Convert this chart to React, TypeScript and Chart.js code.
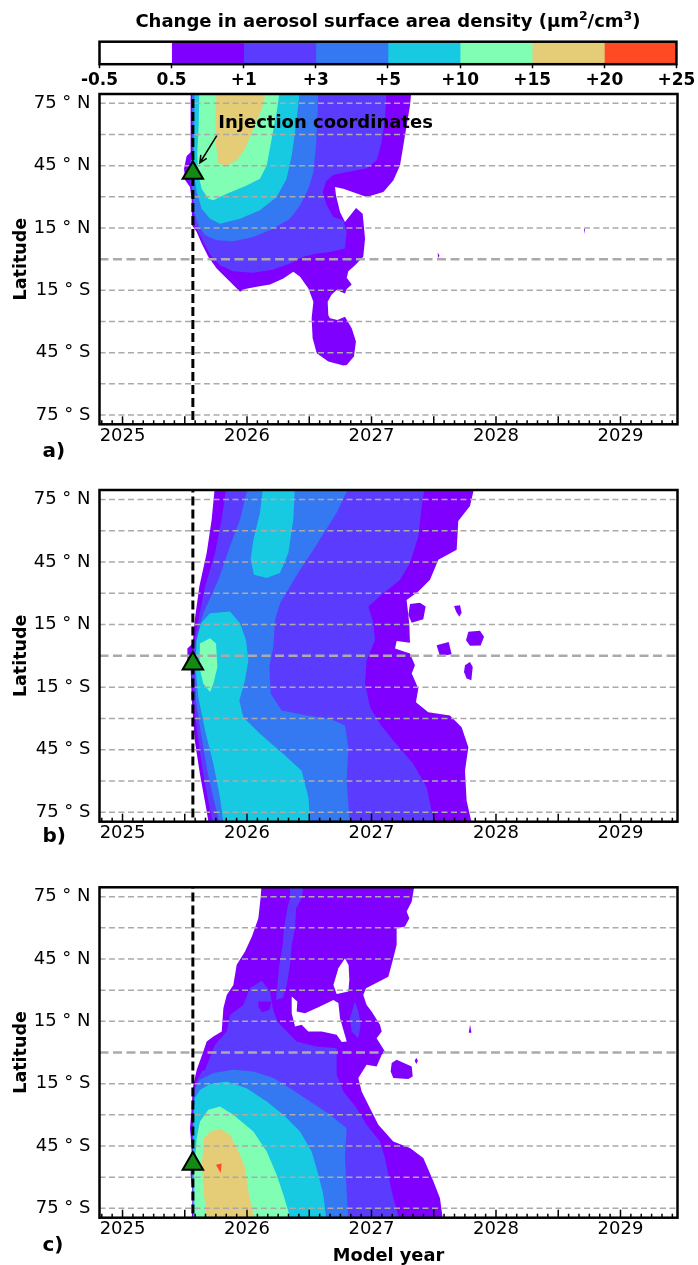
import React, { useEffect, useRef } from 'react';
import { Chart, registerables } from 'chart.js';

Chart.register(...registerables);
Chart.defaults.font.family = "'DejaVu Sans', sans-serif";

type Pt = [number, number];

// ---------- axes ----------
const X_MIN = 2024.815;
const X_MAX = 2029.458;
const Y_MIN = -79.5;
const Y_MAX = 79.5;
const YEAR_TICKS = [2025, 2026, 2027, 2028, 2029];
const LAT_GRID = [75, 60, 45, 30, 15, 0, -15, -30, -45, -60, -75];
const LAT_LABELS: Record<string, string> = {
  '75': '75 ° N', '45': '45 ° N', '15': '15 ° N',
  '-15': '15 ° S', '-45': '45 ° S', '-75': '75 ° S',
};

// ---------- colour levels ----------
const CB_LABELS = ['-0.5', '0.5', '+1', '+3', '+5', '+10', '+15', '+20', '+25'];
const CB_COLORS = ['#ffffff', '#8000ff', '#5b3cff', '#3478f2', '#18c9e2', '#80ffb4', '#e4cd76', '#ff4a24'];
const CB_TITLE = ['Change in aerosol surface area density (μm', '2', '/cm', '3', ')'];

// ---------- injection ----------
const INJ_YEAR = 2025.565;
const INJ_LATS = [41.5, -3.7, -53.6];
const ANNOT_TEXT = 'Injection coordinates';
const ANNOT_POS: Pt = [2025.769, 63.0];
const ARROW_FROM: Pt = [2025.757, 59.5];
const ARROW_TO: Pt = [2025.622, 46.4];

// ---------- panel a contours (year, latitude) ----------
const A_VIOLET: Pt[] = [
  [2025.547, 82], [2025.547, 51.5], [2025.515, 49.6], [2025.494, 43.5], [2025.505, 37.9], [2025.542, 34.7],
  [2025.555, 29.1], [2025.558, 16.3], [2025.596, 13.1], [2025.636, 7.5], [2025.689, 1.1], [2025.756, -4.5],
  [2025.823, -8.5], [2025.890, -12.5], [2025.944, -15.7], [2025.984, -14.4], [2026.078, -13.3], [2026.185, -12.2],
  [2026.292, -9.3], [2026.372, -6.1], [2026.426, -8.5], [2026.493, -14.1], [2026.533, -20.5], [2026.519, -28.5],
  [2026.527, -38.1], [2026.560, -45.3], [2026.653, -49.3], [2026.774, -51.2], [2026.801, -50.9], [2026.859, -46.9],
  [2026.875, -39.7], [2026.841, -33.3], [2026.787, -27.7], [2026.726, -29.3], [2026.667, -28.5], [2026.653, -27.0],
  [2026.648, -20.5], [2026.680, -17.0], [2026.720, -14.9], [2026.787, -16.5], [2026.801, -14.4], [2026.841, -12.2],
  [2026.801, -9.0], [2026.814, -5.8], [2026.868, -2.9], [2026.934, 1.1], [2026.948, 9.9], [2026.929, 21.9],
  [2026.876, 24.6], [2026.787, 17.9], [2026.747, 22.7], [2026.715, 30.7], [2026.707, 34.7], [2026.774, 33.9],
  [2026.961, 29.9], [2027.095, 32.3], [2027.175, 37.9], [2027.229, 45.1], [2027.269, 59.5], [2027.309, 73.9],
  [2027.322, 82],
];
const A_SPECK_1: Pt[] = [[2027.532, 3.2], [2027.546, 1.6], [2027.534, 0.6]];
const A_SPECK_2: Pt[] = [[2028.707, 14.6], [2028.715, 14.6], [2028.712, 12.0]];
const A_INDIGO: Pt[] = [
  [2025.561, 82], [2025.561, 51.5], [2025.542, 46.7], [2025.537, 38.7], [2025.555, 33.9], [2025.569, 27.5],
  [2025.580, 16.3], [2025.622, 11.5], [2025.663, 6.7], [2025.708, 1.9], [2025.783, -2.9], [2025.890, -5.8],
  [2026.051, -6.6], [2026.211, -5.0], [2026.345, -2.1], [2026.452, 1.1], [2026.560, 2.7], [2026.666, 3.5],
  [2026.787, 5.1], [2026.800, 13.1], [2026.773, 18.7], [2026.693, 20.3], [2026.640, 25.9], [2026.608, 32.3],
  [2026.634, 37.4], [2026.693, 40.6], [2026.827, 42.2], [2026.961, 43.8], [2027.041, 47.5], [2027.081, 56.3],
  [2027.108, 67.5], [2027.121, 82],
];
const A_BLUE: Pt[] = [
  [2025.558, 82], [2025.564, 51.5], [2025.547, 43.5], [2025.564, 32.3], [2025.575, 22.7], [2025.609, 16.3],
  [2025.663, 11.5], [2025.756, 9.1], [2025.890, 8.6], [2026.051, 10.7], [2026.211, 14.7], [2026.345, 19.5],
  [2026.426, 25.9], [2026.493, 33.9], [2026.533, 41.9], [2026.554, 54.7], [2026.565, 67.5], [2026.573, 82],
];
const A_CYAN: Pt[] = [
  [2025.580, 82], [2025.575, 59.5], [2025.569, 43.5], [2025.596, 32.3], [2025.636, 24.3], [2025.703, 19.5],
  [2025.783, 17.1], [2025.944, 19.5], [2026.104, 23.5], [2026.238, 29.9], [2026.318, 38.7], [2026.359, 49.9],
  [2026.393, 64.3], [2026.426, 82],
];
const A_MINT: Pt[] = [
  [2025.617, 82], [2025.612, 64.3], [2025.601, 51.5], [2025.604, 41.9], [2025.636, 33.9], [2025.689, 29.1],
  [2025.730, 28.3], [2025.837, 31.5], [2025.997, 35.5], [2026.104, 38.7], [2026.158, 45.1], [2026.198, 57.9],
  [2026.238, 70.7], [2026.265, 82],
];
const A_TAN: Pt[] = [
  [2025.756, 82], [2025.743, 67.5], [2025.751, 54.7], [2025.770, 45.9], [2025.837, 45.1], [2025.917, 47.5],
  [2025.984, 53.1], [2026.051, 62.7], [2026.118, 72.3], [2026.158, 82],
];

// ---------- panel b contours ----------
const B_VIOLET: Pt[] = [
  [2025.743, 82], [2025.716, 65.4], [2025.676, 49.3], [2025.617, 33.2], [2025.580, 17.2], [2025.564, 5.9],
  [2025.521, 3.5], [2025.521, -2.9], [2025.547, -5.3], [2025.555, -19.8], [2025.580, -40.6], [2025.622, -56.7],
  [2025.671, -72.8], [2025.697, -82],
  [2027.812, -82], [2027.764, -69.5], [2027.751, -55.1], [2027.778, -43.8], [2027.724, -34.2], [2027.630, -28.6],
  [2027.456, -27.0], [2027.357, -22.2], [2027.376, -15.7], [2027.323, -8.5], [2027.349, -4.5], [2027.309, 1.1],
  [2027.189, 3.5], [2027.202, 7.1], [2027.309, 6.3], [2027.304, 14.8], [2027.296, 19.6], [2027.282, 26.8],
  [2027.376, 30.8], [2027.470, 36.5], [2027.537, 46.1], [2027.684, 50.9], [2027.697, 64.6], [2027.791, 71.8],
  [2027.831, 82],
];
const B_ISLE_1: Pt[] = [[2027.309, 24.9], [2027.389, 25.5], [2027.435, 23.6], [2027.416, 17.5], [2027.323, 15.9], [2027.296, 19.6]];
const B_ISLE_2: Pt[] = [[2027.663, 23.9], [2027.711, 24.3], [2027.724, 20.7], [2027.705, 18.8], [2027.679, 21.2]];
const B_ISLE_3: Pt[] = [[2027.778, 11.6], [2027.871, 12.0], [2027.904, 9.2], [2027.877, 5.0], [2027.791, 4.8], [2027.759, 7.5]];
const B_ISLE_4: Pt[] = [[2027.523, 5.1], [2027.620, 6.6], [2027.644, 0.8], [2027.550, -0.2]];
const B_ISLE_5: Pt[] = [[2027.751, -4.5], [2027.791, -2.9], [2027.813, -5.3], [2027.802, -11.7], [2027.764, -10.9], [2027.743, -7.7]];
const B_INDIGO: Pt[] = [
  [2025.837, 82], [2025.796, 65.4], [2025.743, 49.3], [2025.663, 33.2], [2025.609, 17.2], [2025.574, 5.9],
  [2025.555, -5.3], [2025.569, -19.8], [2025.601, -37.4], [2025.644, -55.1], [2025.689, -69.5], [2025.730, -82],
  [2027.510, -82], [2027.443, -63.1], [2027.336, -51.9], [2027.175, -40.6], [2027.068, -32.6], [2026.988, -24.6],
  [2026.948, -13.3], [2026.961, -2.1], [2027.028, 7.5], [2027.015, 15.6], [2026.975, 23.6], [2027.095, 30.0],
  [2027.229, 36.5], [2027.309, 44.5], [2027.376, 57.3], [2027.403, 71.8], [2027.430, 82],
];
const B_BLUE: Pt[] = [
  [2026.011, 82], [2025.944, 65.4], [2025.863, 52.5], [2025.770, 36.5], [2025.649, 20.4], [2025.590, 7.5],
  [2025.580, -5.3], [2025.590, -21.4], [2025.630, -37.4], [2025.681, -55.1], [2025.735, -69.5], [2025.788, -82],
  [2026.827, -82], [2026.800, -59.9], [2026.814, -43.8], [2026.787, -33.4], [2026.666, -30.2], [2026.479, -28.6],
  [2026.278, -26.2], [2026.190, -18.1], [2026.179, -5.3], [2026.211, 4.3], [2026.225, 17.2], [2026.265, 25.2],
  [2026.345, 33.2], [2026.426, 41.3], [2026.533, 50.9], [2026.653, 62.2], [2026.720, 68.6], [2026.827, 82],
];
const B_CYAN: Pt[] = [
  [2025.630, 15.6], [2025.703, 20.4], [2025.863, 21.2], [2025.944, 15.6], [2025.992, 7.5], [2026.011, -2.1],
  [2025.984, -11.7], [2025.938, -21.4], [2025.970, -29.4], [2026.104, -37.4], [2026.292, -47.1], [2026.439, -55.1],
  [2026.493, -67.9], [2026.511, -82], [2025.815, -82], [2025.783, -67.9], [2025.730, -51.9], [2025.663, -35.8],
  [2025.609, -19.8], [2025.586, -5.3], [2025.596, 7.5],
];
const B_CYAN_NORTH: Pt[] = [
  [2026.131, 82], [2026.385, 82], [2026.372, 65.4], [2026.332, 49.3], [2026.265, 39.7], [2026.158, 37.3],
  [2026.056, 38.9], [2026.029, 46.1], [2026.051, 55.7], [2026.104, 68.6],
];
const B_MINT: Pt[] = [
  [2025.622, 5.9], [2025.703, 8.4], [2025.751, 5.9], [2025.762, -5.3], [2025.730, -13.3], [2025.703, -17.3],
  [2025.649, -13.3], [2025.617, -5.3],
];

// ---------- panel c contours ----------
const C_VIOLET: Pt[] = [
  [2026.118, 82], [2026.110, 75], [2026.091, 64.6], [2026.040, 56], [2025.984, 48.6], [2025.917, 42.2],
  [2025.890, 32.5], [2025.837, 27.7], [2025.810, 21.3], [2025.797, 10.1], [2025.730, 7.7], [2025.676, 5.3],
  [2025.649, 0.5], [2025.596, -8.3], [2025.575, -14], [2025.564, -17.2], [2025.555, -26.8], [2025.542, -36.4],
  [2025.555, -46.0], [2025.547, -58.8], [2025.564, -68.4], [2025.555, -82],
  [2027.577, -82], [2027.550, -70.1], [2027.497, -62.0], [2027.416, -50.8], [2027.309, -46.0], [2027.175, -42.8],
  [2027.055, -34.8], [2026.988, -26.8], [2026.921, -18.8], [2026.894, -12.3], [2026.961, -5.9], [2027.041, -6.7],
  [2027.082, -1.1], [2027.108, 0.5], [2027.041, 6.9], [2027.082, 10.1], [2027.068, 13.3], [2027.001, 19.7],
  [2026.961, 22.9], [2026.934, 27.7], [2026.956, 30.9], [2027.135, 36.5], [2027.175, 45.4], [2027.202, 51.8],
  [2027.202, 59.8], [2027.269, 60.6], [2027.304, 64.6], [2027.282, 67.8], [2027.323, 72.6], [2027.341, 79.0],
  [2027.341, 82],
];
const C_ISLE_1: Pt[] = [[2027.162, -5.1], [2027.202, -3.5], [2027.323, -6.7], [2027.331, -11.5], [2027.296, -12.7], [2027.175, -12.3], [2027.154, -9.1]];
const C_ISLE_2: Pt[] = [[2027.360, -2.5], [2027.373, -4.0], [2027.360, -5.5], [2027.347, -4.0]];
const C_ISLE_3: Pt[] = [[2027.792, 13.3], [2027.803, 9.5], [2027.781, 9.5]];
const C_INDIGO_BAND: Pt[] = [
  [2026.345, 82], [2026.458, 82], [2026.439, 74.2], [2026.394, 69.4], [2026.386, 59.8], [2026.359, 51.8],
  [2026.345, 42.2], [2026.319, 32.5], [2026.287, 26.2], [2026.233, 25.3], [2026.244, 32.5], [2026.260, 42.2],
  [2026.287, 51.8], [2026.297, 59.8], [2026.324, 69.4], [2026.345, 74.2],
];
const C_INDIGO: Pt[] = [
  [2025.663, -8.3], [2025.743, 3.7], [2025.837, 10.1], [2025.863, 18.1], [2025.970, 22.9], [2026.024, 31.0],
  [2026.118, 34.5], [2026.185, 29.3], [2026.206, 21.3], [2026.244, 14.9], [2026.319, 10.1], [2026.399, 5.3],
  [2026.560, 2.9], [2026.720, 2.1], [2026.720, -10.7], [2026.774, -18.8], [2026.881, -26.8], [2026.961, -34.8],
  [2027.068, -42.8], [2027.108, -50.8], [2027.162, -66.8], [2027.229, -82], [2025.569, -82], [2025.555, -58.8],
  [2025.561, -36.4], [2025.574, -20.4], [2025.596, -13.9], [2025.636, -9.1],
];
const C_INDIGO_SLIVER: Pt[] = [[2026.867, 24.5], [2026.894, 19.7], [2026.913, 13.3], [2026.894, 6.9], [2026.841, 10.1], [2026.827, 16.5]];
const C_VIOLET_POCKET: Pt[] = [[2026.091, 24.5], [2026.198, 24.5], [2026.179, 20.5], [2026.118, 19.4], [2026.091, 22.1]];
const C_BLUE: Pt[] = [
  [2025.580, -17.2], [2025.622, -13.1], [2025.730, -9.9], [2025.890, -8.3], [2026.051, -9.1], [2026.211, -12.3],
  [2026.345, -17.2], [2026.506, -23.6], [2026.666, -30.0], [2026.800, -36.4], [2026.787, -50.8], [2026.800, -66.8],
  [2026.814, -82], [2025.569, -82], [2025.561, -58.8], [2025.569, -36.4], [2025.574, -23.6],
];
const C_CYAN: Pt[] = [
  [2025.580, -22.0], [2025.622, -18.0], [2025.703, -15.2], [2025.837, -13.9], [2025.997, -17.2], [2026.158, -23.6],
  [2026.292, -30.0], [2026.426, -38.0], [2026.519, -47.6], [2026.573, -58.8], [2026.613, -68.4], [2026.640, -82],
  [2025.569, -82], [2025.564, -58.8], [2025.569, -36.4], [2025.574, -26.8],
];
const C_MINT: Pt[] = [
  [2025.622, -33.2], [2025.689, -27.6], [2025.783, -26.0], [2025.890, -30.0], [2026.051, -38.0], [2026.158, -47.6],
  [2026.238, -58.8], [2026.292, -68.4], [2026.359, -82], [2025.580, -82], [2025.575, -58.8], [2025.596, -41.2],
];
const C_TAN: Pt[] = [
  [2025.655, -41.2], [2025.703, -38.0], [2025.783, -36.7], [2025.863, -39.6], [2025.944, -49.2], [2025.984, -55.6],
  [2026.011, -66.8], [2026.064, -82], [2025.680, -82], [2025.655, -68.4], [2025.636, -54.0],
];
const C_RED: Pt[] = [[2025.751, -54.0], [2025.796, -53.4], [2025.788, -58.0]];
const C_HOLE_1: Pt[] = [[2026.787, 45.4], [2026.816, 42.0], [2026.822, 35.0], [2026.814, 29.3], [2026.720, 28.1], [2026.694, 32.5], [2026.734, 40.6]];
const C_HOLE_2: Pt[] = [
  [2026.359, 26.9], [2026.404, 24.5], [2026.399, 19.7], [2026.466, 18.9], [2026.586, 22.1], [2026.694, 25.3],
  [2026.734, 23.8], [2026.747, 16.5], [2026.801, 5.3], [2026.761, 5.0], [2026.720, 8.5], [2026.600, 10.1],
  [2026.492, 10.1], [2026.439, 13.3], [2026.386, 12.5], [2026.359, 18.9],
];

// layers in paint order: [colour index, polygon]
const LAYERS_A: [number, Pt[]][] = [
  [1, A_VIOLET], [1, A_SPECK_1], [1, A_SPECK_2], [2, A_INDIGO], [3, A_BLUE], [4, A_CYAN], [5, A_MINT], [6, A_TAN],
];
const LAYERS_B: [number, Pt[]][] = [
  [1, B_VIOLET], [1, B_ISLE_1], [1, B_ISLE_2], [1, B_ISLE_3], [1, B_ISLE_4], [1, B_ISLE_5],
  [2, B_INDIGO], [3, B_BLUE], [4, B_CYAN], [4, B_CYAN_NORTH], [5, B_MINT],
];
const LAYERS_C: [number, Pt[]][] = [
  [1, C_VIOLET], [1, C_ISLE_1], [1, C_ISLE_2], [1, C_ISLE_3], [2, C_INDIGO_BAND], [2, C_INDIGO],
  [2, C_INDIGO_SLIVER], [1, C_VIOLET_POCKET], [3, C_BLUE], [4, C_CYAN], [5, C_MINT], [6, C_TAN], [7, C_RED],
  [0, C_HOLE_1], [0, C_HOLE_2],
];

const PANELS = [
  { layers: LAYERS_A, injLat: INJ_LATS[0], letter: 'a)', canvasTop: 69, canvasH: 401, padTop: 25, xAxisH: 45.7, letterBase: 457.3, annot: true, xTitle: false },
  { layers: LAYERS_B, injLat: INJ_LATS[1], letter: 'b)', canvasTop: 465, canvasH: 385, padTop: 25, xAxisH: 28.3, letterBase: 842.3, annot: false, xTitle: false },
  { layers: LAYERS_C, injLat: INJ_LATS[2], letter: 'c)', canvasTop: 862, canvasH: 403, padTop: 25.3, xAxisH: 47.3, letterBase: 1250.6, annot: false, xTitle: true },
];

const FONT = '"DejaVu Sans"';

function panelPlugin(spec: any) {
  return {
    id: 'panelDeco',
    afterDraw(chart: any) {
      const { ctx, chartArea: ca } = chart;
      const xs = chart.scales.x;
      const ys = chart.scales.y;
      ctx.save();
      ctx.strokeStyle = '#000';
      ctx.lineWidth = 1.5;
      for (let m = Math.ceil(X_MIN * 12); m <= Math.floor(X_MAX * 12); m++) {
        const px = xs.getPixelForValue(m / 12);
        const len = m % 6 === 0 ? 8 : 4;
        ctx.beginPath();
        ctx.moveTo(px, ca.bottom);
        ctx.lineTo(px, ca.bottom - len);
        ctx.stroke();
      }
      ctx.lineWidth = 2.5;
      ctx.strokeRect(ca.left, ca.top, ca.right - ca.left, ca.bottom - ca.top);

      ctx.fillStyle = '#000';
      ctx.save();
      ctx.translate(21.7, (ca.top + ca.bottom) / 2);
      ctx.rotate(-Math.PI / 2);
      ctx.font = `bold 17.5px ${FONT}`;
      ctx.textAlign = 'center';
      ctx.textBaseline = 'middle';
      ctx.fillText('Latitude', 0, 0);
      ctx.restore();

      ctx.font = `bold 20px ${FONT}`;
      ctx.textAlign = 'left';
      ctx.textBaseline = 'alphabetic';
      ctx.fillText(spec.letter, 42.5, spec.letterBase - spec.canvasTop);

      if (spec.xTitle) {
        ctx.font = `bold 17.8px ${FONT}`;
        ctx.textAlign = 'center';
        ctx.fillText('Model year', (ca.left + ca.right) / 2, 1261.3 - spec.canvasTop);
      }

      if (spec.annot) {
        ctx.font = `bold 18px ${FONT}`;
        ctx.textAlign = 'left';
        ctx.textBaseline = 'alphabetic';
        ctx.fillText(ANNOT_TEXT, xs.getPixelForValue(ANNOT_POS[0]), ys.getPixelForValue(ANNOT_POS[1]));
        const x0 = xs.getPixelForValue(ARROW_FROM[0]);
        const y0 = ys.getPixelForValue(ARROW_FROM[1]);
        const x1 = xs.getPixelForValue(ARROW_TO[0]);
        const y1 = ys.getPixelForValue(ARROW_TO[1]);
        ctx.lineWidth = 1.5;
        ctx.beginPath();
        ctx.moveTo(x0, y0);
        ctx.lineTo(x1, y1);
        const ang = Math.atan2(y1 - y0, x1 - x0);
        const hl = 8;
        ctx.moveTo(x1 - hl * Math.cos(ang - 0.45), y1 - hl * Math.sin(ang - 0.45));
        ctx.lineTo(x1, y1);
        ctx.lineTo(x1 - hl * Math.cos(ang + 0.45), y1 - hl * Math.sin(ang + 0.45));
        ctx.stroke();
      }
      ctx.restore();
    },
  };
}

function makePanel(canvas: HTMLCanvasElement, spec: any) {
  const paint: any[] = [];
  spec.layers.forEach(([ci, poly]: [number, Pt[]]) => {
    paint.push({
      data: poly.map(([x, y]) => ({ x, y })),
      backgroundColor: CB_COLORS[ci],
      borderColor: CB_COLORS[ci],
      borderWidth: 0,
      borderDash: [3, 3],
      fill: 'shape',
      pointRadius: 0,
      tension: 0,
    });
  });
  LAT_GRID.forEach((lat) => {
    paint.push({
      data: [{ x: X_MIN, y: lat }, { x: X_MAX, y: lat }],
      borderColor: '#aaaaaa',
      borderWidth: lat === 0 ? 2.5 : 1.5,
      borderDash: lat === 0 ? [9, 4.5] : [6, 3.5],
      fill: false,
      pointRadius: 0,
    });
  });
  paint.push({
    data: [{ x: INJ_YEAR, y: -90 }, { x: INJ_YEAR, y: 90 }],
    borderColor: '#000',
    borderWidth: 3,
    borderDash: [9, 4],
    fill: false,
    pointRadius: 0,
  });
  paint.push({
    data: [{ x: INJ_YEAR, y: spec.injLat }],
    showLine: false,
    fill: false,
    pointStyle: 'triangle',
    pointRadius: 11.8,
    pointBackgroundColor: '#138a13',
    pointBorderColor: '#000',
    pointBorderWidth: 2,
  });
  const n = paint.length;
  paint.forEach((d, i) => { d.order = n - i; });

  return new Chart(canvas, {
    type: 'line',
    data: { datasets: paint },
    options: {
      responsive: false,
      maintainAspectRatio: false,
      animation: false,
      events: [],
      layout: { padding: { top: spec.padTop, left: 0, right: 20.5, bottom: 0 } },
      plugins: { legend: { display: false }, tooltip: { enabled: false } },
      scales: {
        x: {
          type: 'linear',
          min: X_MIN,
          max: X_MAX,
          grid: { display: false, drawTicks: false },
          border: { display: false },
          afterBuildTicks: (s: any) => { s.ticks = YEAR_TICKS.map((v) => ({ value: v })); },
          afterFit: (s: any) => { s.height = spec.xAxisH; },
          ticks: {
            autoSkip: false,
            maxRotation: 0,
            padding: 1,
            color: '#000',
            font: { family: 'DejaVu Sans', size: 18 },
            callback: (v: any) => String(v),
          },
        },
        y: {
          type: 'linear',
          min: Y_MIN,
          max: Y_MAX,
          grid: { display: false, drawTicks: false },
          border: { display: false },
          afterBuildTicks: (s: any) => { s.ticks = LAT_GRID.map((v) => ({ value: v })); },
          afterFit: (s: any) => { s.width = 99.5; },
          ticks: {
            autoSkip: false,
            padding: 9,
            color: '#000',
            font: { family: 'DejaVu Sans', size: 18 },
            callback: (v: any) => LAT_LABELS[String(v)] ?? '',
          },
        },
      },
    },
    plugins: [panelPlugin(spec)],
  } as any);
}

const colorbarPlugin = {
  id: 'cbDeco',
  afterDraw(chart: any) {
    const { ctx, chartArea: ca } = chart;
    ctx.save();
    ctx.strokeStyle = '#000';
    ctx.lineWidth = 2.5;
    ctx.strokeRect(ca.left, ca.top, ca.right - ca.left, ca.bottom - ca.top);
    // title with superscripts
    const big = `bold 18px ${FONT}`;
    const small = `bold 12.5px ${FONT}`;
    let total = 0;
    const widths = CB_TITLE.map((t, i) => {
      ctx.font = i % 2 === 1 ? small : big;
      const w = ctx.measureText(t).width;
      total += w;
      return w;
    });
    let x = (ca.left + ca.right) / 2 - total / 2;
    const base = 27.3;
    ctx.fillStyle = '#000';
    ctx.textAlign = 'left';
    ctx.textBaseline = 'alphabetic';
    CB_TITLE.forEach((t, i) => {
      const sup = i % 2 === 1;
      ctx.font = sup ? small : big;
      ctx.fillText(t, x, sup ? base - 7 : base);
      x += widths[i];
    });
    ctx.restore();
  },
};

function makeColorbar(canvas: HTMLCanvasElement) {
  return new Chart(canvas, {
    type: 'bar',
    data: {
      labels: [''],
      datasets: CB_COLORS.map((c) => ({
        data: [1],
        backgroundColor: c,
        borderWidth: 0,
        barPercentage: 1,
        categoryPercentage: 1,
      })),
    },
    options: {
      indexAxis: 'y',
      responsive: false,
      maintainAspectRatio: false,
      animation: false,
      events: [],
      layout: { padding: { top: 41.7, left: 99.5, right: 20.5, bottom: 0 } },
      plugins: { legend: { display: false }, tooltip: { enabled: false } },
      scales: {
        x: {
          type: 'linear',
          stacked: true,
          min: 0,
          max: CB_LABELS.length - 1,
          border: { display: false },
          grid: { display: true, drawOnChartArea: false, drawTicks: true, tickLength: 4, tickWidth: 1.5, tickColor: '#000', color: '#000' },
          afterBuildTicks: (s: any) => { s.ticks = CB_LABELS.map((_, i) => ({ value: i })); },
          afterFit: (s: any) => { s.height = 35.8; },
          ticks: {
            autoSkip: false,
            maxRotation: 0,
            padding: 2.6,
            color: '#000',
            font: { family: 'DejaVu Sans', size: 17, weight: 'bold' },
            callback: (_v: any, i: number) => CB_LABELS[i],
          },
        },
        y: { display: false, stacked: true },
      },
    },
    plugins: [colorbarPlugin],
  } as any);
}

export default function App() {
  const cbRef = useRef<HTMLCanvasElement>(null);
  const aRef = useRef<HTMLCanvasElement>(null);
  const bRef = useRef<HTMLCanvasElement>(null);
  const cRef = useRef<HTMLCanvasElement>(null);

  useEffect(() => {
    document.body.style.margin = '0';
    const refs = [aRef, bRef, cRef];
    const charts: Chart[] = [];
    if (cbRef.current) charts.push(makeColorbar(cbRef.current));
    PANELS.forEach((p, i) => {
      const c = refs[i].current;
      if (c) charts.push(makePanel(c, p));
    });
    return () => charts.forEach((c) => c.destroy());
  }, []);

  const abs = (top: number, h: number): React.CSSProperties => ({
    position: 'absolute', left: 0, top, width: 698, height: h,
  });

  return (
    <div style={{ position: 'relative', width: 698, height: 1265, background: '#fff', overflow: 'hidden' }}>
      <canvas ref={cbRef} width={698} height={100} style={abs(0, 100)} />
      {PANELS.map((p, i) => (
        <canvas
          key={p.letter}
          ref={[aRef, bRef, cRef][i]}
          width={698}
          height={p.canvasH}
          style={abs(p.canvasTop, p.canvasH)}
        />
      ))}
    </div>
  );
}
